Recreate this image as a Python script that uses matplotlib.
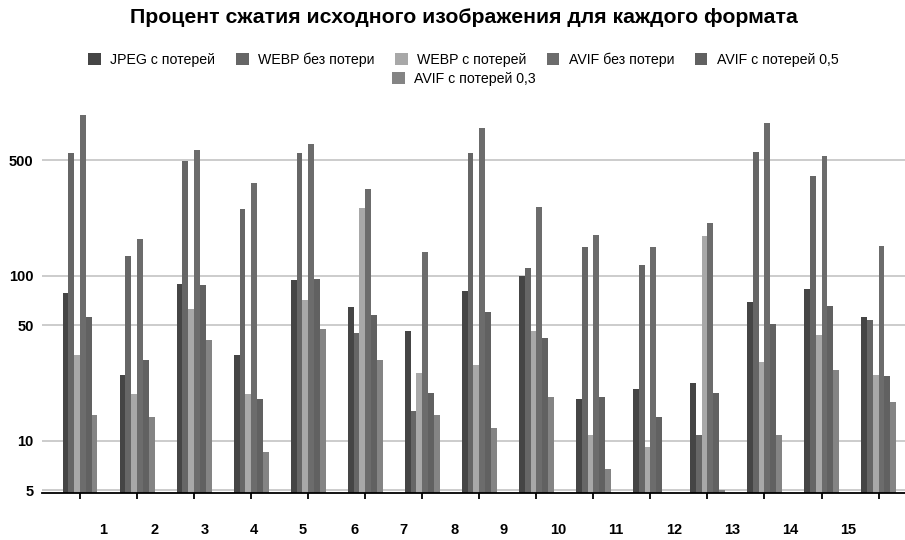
import numpy as np
import matplotlib
matplotlib.use('Agg')
from matplotlib import pyplot as plt
from matplotlib.patches import Patch
import matplotlib.transforms as mtransforms

plt.rcParams['font.family'] = ['Liberation Sans', 'DejaVu Sans']

# данные
groups = [str(i) for i in range(1, 16)]
series_names = ['JPEG с потерей', 'WEBP без потери', 'WEBP с потерей',
                'AVIF без потери', 'AVIF с потерей 0,5', 'AVIF с потерей 0,3']
jpeg_lossy = [79, 25, 89, 33, 94, 65, 46, 81, 100, 18, 20.7, 22.5, 69, 83, 56.5]
webp_lossless = [552, 132, 494, 254, 555, 45, 15.2, 552, 112, 150, 116, 10.8, 560, 404, 54]
webp_lossy = [33, 19.2, 63, 19.2, 71, 256, 25.6, 28.6, 46, 10.8, 9.2, 174, 30, 44, 25]
avif_lossless = [942, 166, 578, 366, 626, 337, 140, 786, 261, 176, 150, 208, 839, 531, 152]
avif_lossy_05 = [56, 31, 88, 18, 96, 58, 19.4, 60, 42, 18.5, 14, 19.4, 51, 65.5, 24.7]
avif_lossy_03 = [14.3, 14, 41, 8.5, 47.5, 31, 14.3, 12, 18.5, 6.7, np.nan, 5.05, 10.8, 26.8, 17.2]
y_ticks = [5, 10, 50, 100, 500]

series = [jpeg_lossy, webp_lossless, webp_lossy, avif_lossless, avif_lossy_05, avif_lossy_03]
colors = ['#454545', '#666666', '#a8a8a8', '#6c6c6c', '#616161', '#848484']

fig = plt.figure(figsize=(9.05, 5.4), dpi=100)
ax = fig.add_axes([0.0464, 0.0865, 0.954, 0.738])

x = np.arange(len(groups))
w = 0.102
for i, (vals, c) in enumerate(zip(series, colors)):
    ax.bar(x + (i - 2.5) * w, vals, width=w, color=c, linewidth=0, zorder=3)

ax.set_yscale('log')
ax.set_ylim(4.8, 1250)
ax.set_xlim(-0.667, 14.47)
ax.set_yticks(y_ticks)
ax.set_yticklabels([str(t) for t in y_ticks], fontsize=10.5, fontweight='bold')
ax.yaxis.set_minor_locator(matplotlib.ticker.NullLocator())
ax.tick_params(axis='y', length=0, pad=6)
ax.grid(axis='y', color='#c4c4c4', linewidth=1.2, zorder=0)

ax.set_xticks(x)
ax.set_xticklabels([])
ax.tick_params(axis='x', direction='inout', length=8, width=1.3, color='black')

for s in ['top', 'right', 'left']:
    ax.spines[s].set_visible(False)
ax.spines['bottom'].set_linewidth(1.3)
ax.spines['bottom'].set_zorder(4)

# подписи групп смещены относительно делений, как в оригинале
label_x = [0.40, 1.30, 2.18, 3.05, 3.91, 4.81, 5.67, 6.56, 7.42, 8.39, 9.40, 10.42, 11.44, 12.46, 13.47]
trans = mtransforms.blended_transform_factory(ax.transData, ax.transAxes)
for lx, g in zip(label_x, groups):
    ax.text(lx, -0.092, g, transform=trans, ha='center', va='center',
            fontsize=10.5, fontweight='bold')

fig.text(0.513, 0.967, 'Процент сжатия исходного изображения для каждого формата',
         ha='center', va='center', fontsize=15.3, fontweight='bold')

handles = [Patch(facecolor=c, edgecolor='none') for c in colors]
leg1 = fig.legend(handles[:5], series_names[:5], loc='center', bbox_to_anchor=(0.512, 0.890),
                  ncol=5, frameon=False, fontsize=10.2, handlelength=0.9, handleheight=0.9,
                  handletextpad=0.65, columnspacing=1.45)
leg2 = fig.legend(handles[5:], series_names[5:], loc='center', bbox_to_anchor=(0.513, 0.854),
                  ncol=1, frameon=False, fontsize=10.2, handlelength=0.9, handleheight=0.9,
                  handletextpad=0.65)

fig.savefig('out.png', dpi=100)
